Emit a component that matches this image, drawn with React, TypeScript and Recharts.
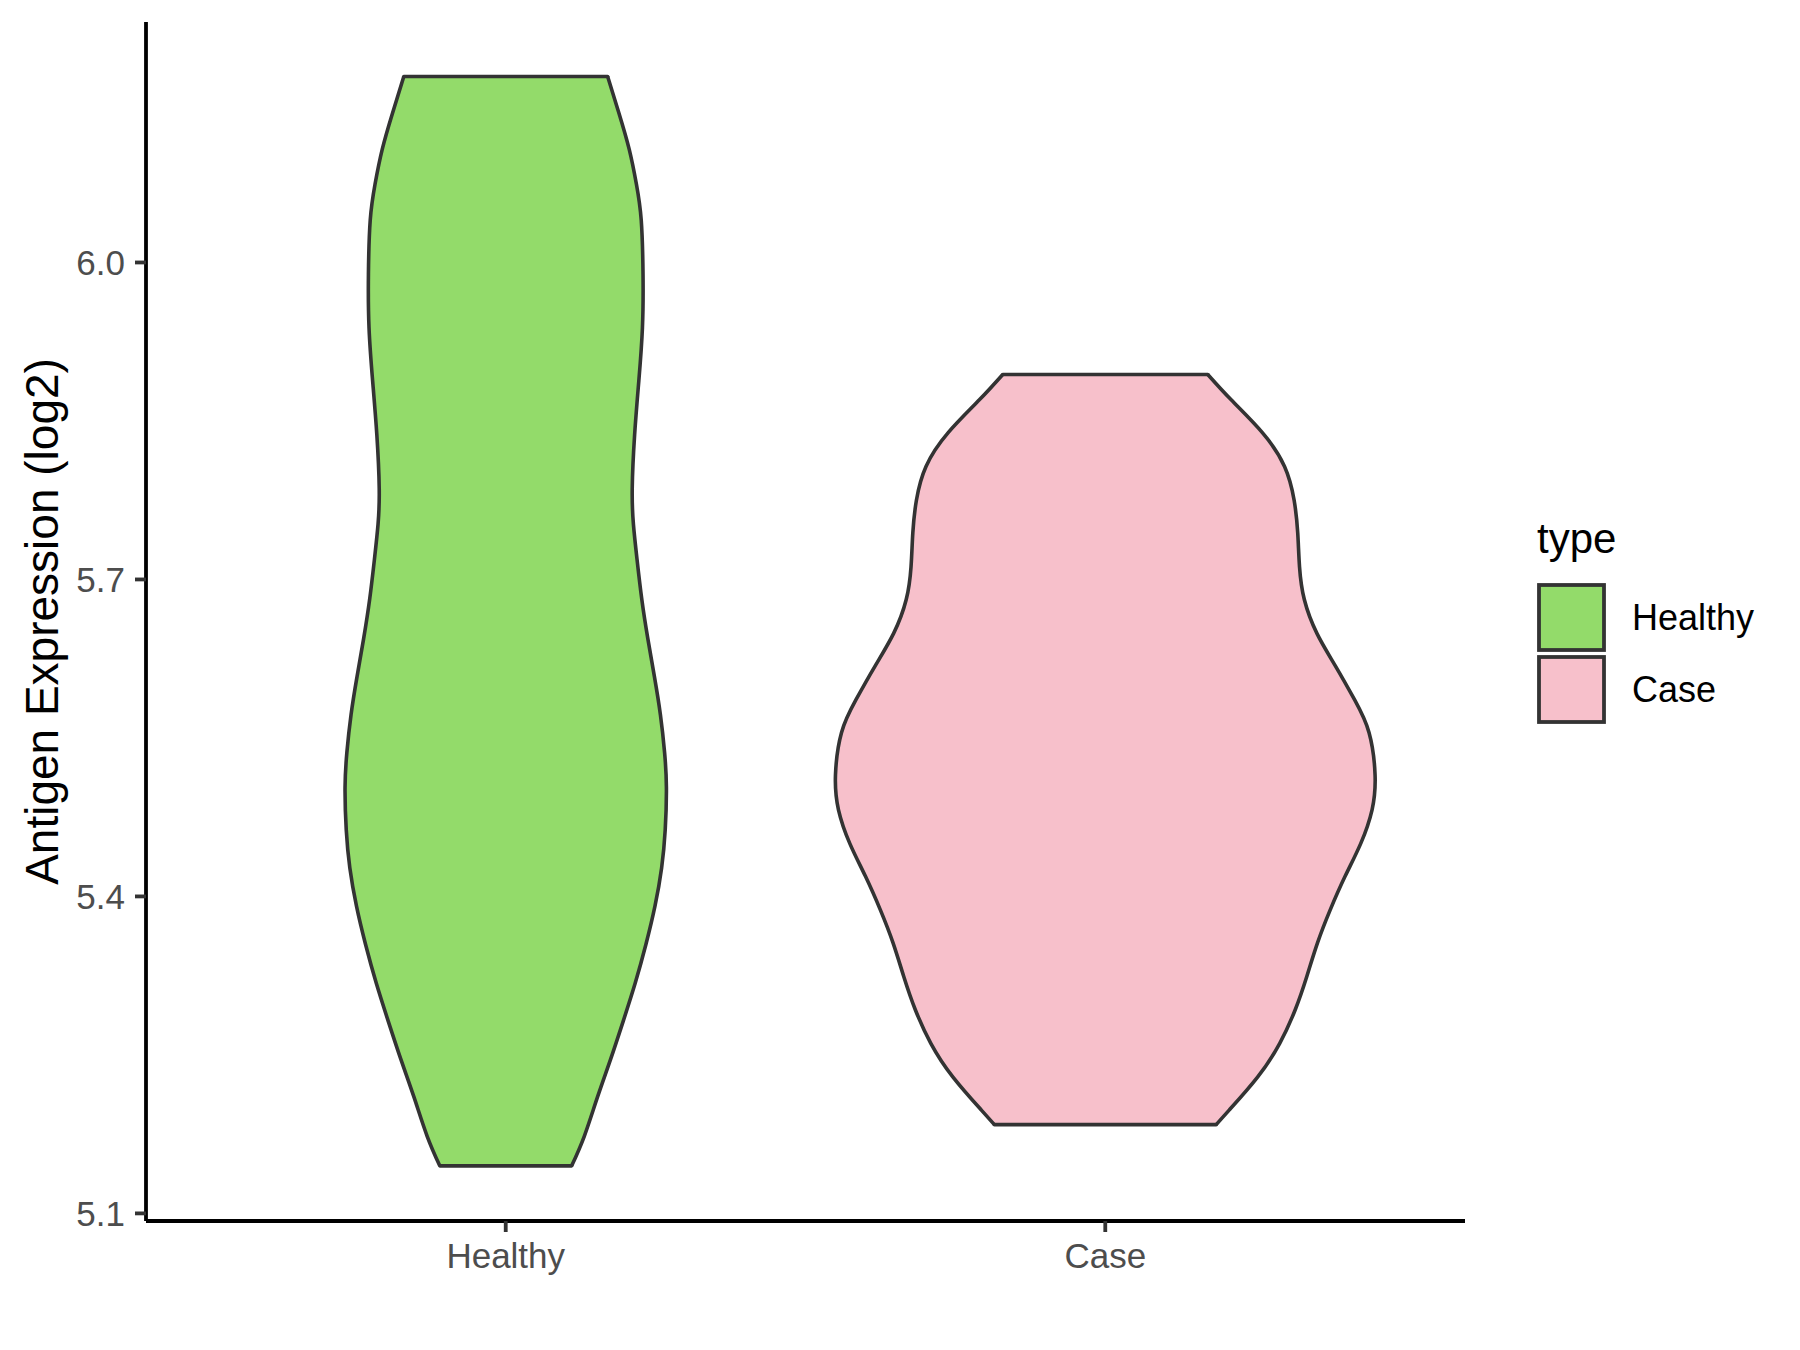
import { ComposedChart, Area, XAxis, YAxis, ReferenceLine, Legend } from 'recharts'

const FONT = "'Liberation Sans', Arial, sans-serif"

const CATEGORIES = ['Healthy', 'Case']
const FILLS = ['#93DB6A', '#F7C0CB']
const OUTLINE = '#333333'

const Y_TICKS = [5.1, 5.4, 5.7, 6.0]
const Y_DOMAIN = [5.0928, 6.2276]
const X_TICKS = [1, 2]
const X_DOMAIN = [0.4, 2.6]

// violin outlines: expression level (top to bottom) and half width in category units
const HEALTHY_Y = [
    6.176, 6.141, 6.107, 6.074, 6.040, 5.989, 5.938, 5.888, 5.837, 5.786,
    5.752, 5.719, 5.681, 5.644, 5.608, 5.572, 5.536, 5.503, 5.463, 5.427,
    5.391, 5.355, 5.318, 5.282, 5.246, 5.210, 5.173, 5.145,
]
const HEALTHY_HALF = [
    0.170, 0.189, 0.206, 0.218, 0.226, 0.229, 0.228, 0.222, 0.215, 0.211,
    0.213, 0.219, 0.227, 0.237, 0.248, 0.258, 0.265, 0.268, 0.266, 0.260,
    0.249, 0.234, 0.216, 0.196, 0.175, 0.153, 0.131, 0.110,
]

const CASE_Y = [
    5.894, 5.870, 5.839, 5.807, 5.775, 5.744, 5.712, 5.681, 5.649, 5.618,
    5.586, 5.555, 5.515, 5.482, 5.450, 5.419, 5.387, 5.356, 5.324, 5.293,
    5.261, 5.229, 5.198, 5.184,
]
const CASE_HALF = [
    0.171, 0.210, 0.262, 0.299, 0.315, 0.321, 0.324, 0.332, 0.353, 0.384,
    0.416, 0.440, 0.450, 0.445, 0.426, 0.400, 0.375, 0.354, 0.336, 0.317,
    0.291, 0.254, 0.207, 0.185,
]

type ViolinRow = { y: number; range: [number, number] }

function toViolin(pos: number, ys: number[], halves: number[]): ViolinRow[] {
    return ys.map((y, i) => ({ y, range: [pos - halves[i], pos + halves[i]] }))
}

const violins = [
    { name: CATEGORIES[0], fill: FILLS[0], data: toViolin(1, HEALTHY_Y, HEALTHY_HALF) },
    { name: CATEGORIES[1], fill: FILLS[1], data: toViolin(2, CASE_Y, CASE_HALF) },
]

function TypeLegend() {
    return (
        <svg width={270} height={240} style={{ display: 'block', fontFamily: FONT }}>
            <text x={7} y={53} fontSize={42} fill='#000'>type</text>
            {CATEGORIES.map((c, i) => (
                <g key={c}>
                    <rect
                        x={9}
                        y={85}
                        transform={`translate(0, ${i * 72})`}
                        width={65}
                        height={65}
                        fill={FILLS[i]}
                        stroke={OUTLINE}
                        strokeWidth={3.8}
                    />
                    <text x={102} y={130 + i * 72} fontSize={36} fill='#000'>{c}</text>
                </g>
            ))}
        </svg>
    )
}

function YTitle(props: any) {
    const vb = props.viewBox || {}
    const cy = (vb.y ?? 22) + (vb.height ?? 1199) / 2
    return (
        <text
            transform={`translate(58, ${cy}) rotate(-90)`}
            textAnchor='middle'
            fontSize={46}
            fill='#000'
            fontFamily={FONT}
        >
            Antigen Expression (log2)
        </text>
    )
}

export default function App() {
    return (
        <div>
            <style>{'body { margin: 0; background: #fff; }'}</style>
            <ComposedChart
                width={1800}
                height={1350}
                layout='vertical'
                margin={{ top: 22, right: 335, bottom: 69, left: 0 }}
                style={{ fontFamily: FONT }}
            >
                <XAxis
                    type='number'
                    domain={X_DOMAIN}
                    ticks={X_TICKS}
                    allowDataOverflow
                    tickFormatter={v => CATEGORIES[Math.round(v) - 1] ?? ''}
                    height={60}
                    tickSize={11}
                    tickMargin={11}
                    axisLine={{ stroke: '#000', strokeWidth: 3.8 }}
                    tickLine={{ stroke: OUTLINE, strokeWidth: 3.8 }}
                    tick={{ fill: '#4D4D4D', fontSize: 35, fontFamily: FONT }}
                />
                <YAxis
                    type='number'
                    dataKey='y'
                    domain={Y_DOMAIN}
                    ticks={Y_TICKS}
                    reversed
                    allowDataOverflow
                    tickFormatter={v => Number(v).toFixed(1)}
                    width={146}
                    tickSize={11}
                    tickMargin={10}
                    axisLine={{ stroke: '#000', strokeWidth: 3.8 }}
                    tickLine={{ stroke: OUTLINE, strokeWidth: 3.8 }}
                    tick={{ fill: '#4D4D4D', fontSize: 35, fontFamily: FONT }}
                    label={{ content: YTitle }}
                />
                {violins.map(v => (
                    <Area
                        key={v.name}
                        name={v.name}
                        data={v.data}
                        dataKey='range'
                        type='natural'
                        fill={v.fill}
                        fillOpacity={1}
                        stroke={OUTLINE}
                        strokeWidth={3.6}
                        strokeLinejoin='round'
                        dot={false}
                        activeDot={false}
                        isAnimationActive={false}
                    />
                ))}
                {violins.map(v => {
                    const ends = [v.data[0], v.data[v.data.length - 1]]
                    return ends.map((row, j) => (
                        <ReferenceLine
                            key={`${v.name}-${j}`}
                            segment={[{ x: row.range[0], y: row.y }, { x: row.range[1], y: row.y }]}
                            stroke={OUTLINE}
                            strokeWidth={3.6}
                            strokeLinecap='round'
                        />
                    ))
                })}
                <Legend
                    layout='horizontal'
                    align='center'
                    verticalAlign='middle'
                    content={() => <TypeLegend />}
                    wrapperStyle={{ left: 1530, top: 500, width: 270, height: 240 }}
                />
            </ComposedChart>
        </div>
    )
}
